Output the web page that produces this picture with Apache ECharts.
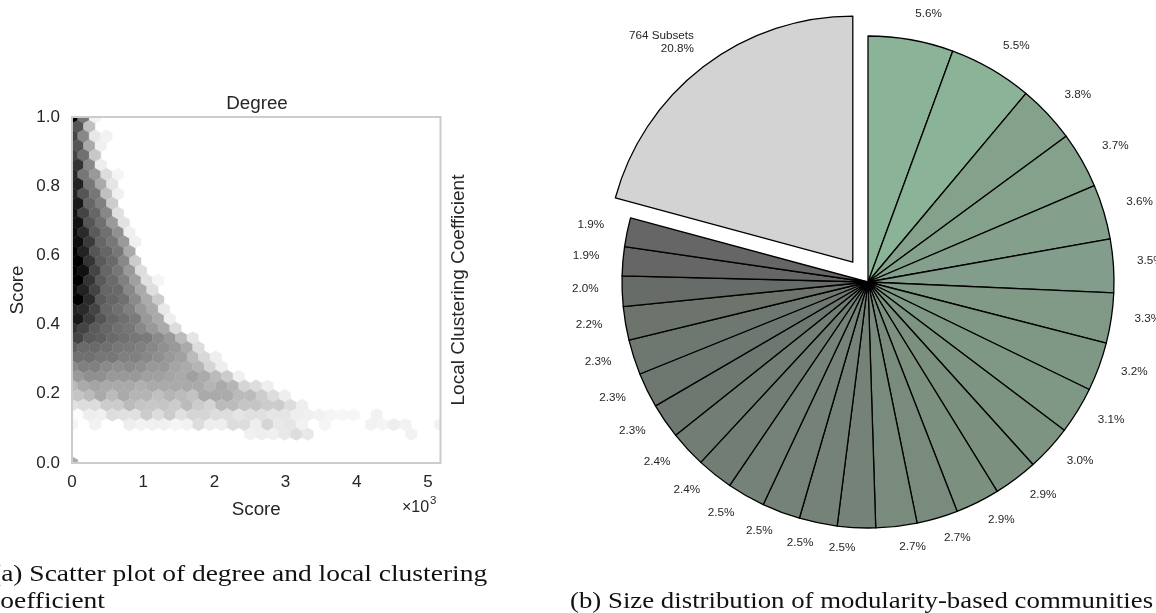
<!DOCTYPE html>
<html>
<head>
<meta charset="utf-8">
<style>html,body{margin:0;padding:0;background:#fff}#c{width:1156px;height:613px}</style>
<script src="https://cdn.jsdelivr.net/npm/echarts@6/dist/echarts.min.js"></script>
</head>
<body>
<div id="c"></div>
<script>
// Hexbin darkness (0 = white, 255 = black) per lattice row, top (y = 1) to bottom; each row lists columns from the left.
const hexDensity = [
 [255,136,12],
 [170,63],
 [187,119,23,13],
 [170,85,15],
 [187,143,55],
 [204,119,17],
 [213,136,102,34,10],
 [221,136,85,26],
 [221,170,136,63,15],
 [230,153,127,51],
 [238,187,153,119,31],
 [238,170,143,101,29],
 [245,213,165,143,111,15],
 [242,197,153,136,102,15],
 [255,221,170,153,136,85],
 [255,204,165,149,119,51],
 [255,238,187,153,136,102,34],
 [255,204,165,149,127,95,31,10],
 [245,221,187,153,149,119,85,33],
 [255,213,165,153,143,117,85,51],
 [221,213,187,153,143,127,102,85,23],
 [230,197,170,153,143,133,102,85,17],
 [204,187,165,153,143,136,119,102,85,35],
 [187,165,159,149,143,136,133,117,102,68,26],
 [160,149,149,143,136,133,127,119,111,102,85,34],
 [143,143,136,136,127,127,119,112,102,95,68,39,17],
 [117,127,127,117,112,117,111,102,102,90,85,74,42,17],
 [102,112,111,102,102,102,95,95,90,85,95,85,68,51,15],
 [70,85,90,85,85,85,79,85,85,85,85,85,74,85,74,42,34,17],
 [58,68,85,68,85,74,74,63,74,68,60,85,85,85,68,68,51,34,17],
 [30,34,34,51,51,68,58,55,58,51,68,51,42,68,68,58,58,51,51,34,17],
 [3,17,15,34,31,31,51,34,51,31,42,42,34,34,26,31,31,26,26,17,15,13,10,9,9,0,13],
 [10,0,13,0,0,17,13,15,15,10,13,34,17,17,34,34,17,42,23,26,13,0,10,0,0,0,13,10,17,13,0,0,13],
 [0,0,0,0,0,0,0,0,0,0,0,0,0,0,0,15,17,15,23,34,23,0,0,0,0,0,0,0,0,13],
 [],
 [],
 [85]
];
const hexStepX = 0.1615;     // thousands of score per column
const hexStepY = 1 / 36;     // score per row

const xTicksMax = 5.176;
const yTicks = 0.2;

const sliceNames = ['','','','','','','','','','','','','','','','','','','','','','','','','','','','764 Subsets'];
const sliceValues = [5.6,5.5,3.8,3.7,3.6,3.5,3.3,3.2,3.1,3.0,2.9,2.9,2.7,2.7,2.5,2.5,2.5,2.5,2.4,2.4,2.3,2.3,2.3,2.2,2.0,1.9,1.9,20.8];
const slicePalette = ['#8BB398','#8BB398','#84A18B','#84A18B','#849F8C','#829D8B','#809A87','#7F9886','#7F9886','#7D9482','#7B907E','#7B907E','#798B7C','#798B7C','#758278','#758278','#758278','#758278','#727D74','#727D74','#6F7870','#6F7870','#6F7870','#6C746C','#686C68','#666666','#666666','#D3D3D3'];

const hexData = [];
hexDensity.forEach((row, j) => row.forEach((v, k) => {
  if (v > 0) hexData.push([(k + (j % 2 ? 0.5 : 0)) * hexStepX, 1 - j * hexStepY, v]);
}));

const chart = echarts.init(document.getElementById('c'), null, {renderer: 'canvas'});
const ink = '#262626';
const sans = 'Liberation Sans';
const capFont = '23.7px "Liberation Serif"';
chart.setOption({
  animation: false,
  backgroundColor: '#fff',
  textStyle: {fontFamily: sans},
  grid: {left: 72, top: 117, width: 368.5, height: 346, z: 5, show: true,
    backgroundColor: 'transparent', borderColor: '#cccccc', borderWidth: 2},
  xAxis: {type: 'value', min: 0, max: xTicksMax, interval: 1,
    name: 'Score', nameLocation: 'middle', nameGap: 37,
    nameTextStyle: {color: ink, fontSize: 18.8, fontFamily: sans},
    axisLine: {show: false}, axisTick: {show: false}, splitLine: {show: false},
    axisLabel: {color: ink, fontSize: 17, margin: 11, fontFamily: sans, formatter: v => String(v)}},
  yAxis: [
    {type: 'value', min: 0, max: 1, interval: yTicks,
     name: 'Score', nameLocation: 'middle', nameGap: 45, nameRotate: 90,
     nameTextStyle: {color: ink, fontSize: 18.8, fontFamily: sans},
     axisLine: {show: false}, axisTick: {show: false}, splitLine: {show: false},
     axisLabel: {color: ink, fontSize: 17, margin: 12, fontFamily: sans, formatter: v => v.toFixed(1)}},
    {type: 'value', position: 'right', min: 0, max: 1,
     name: 'Local Clustering Coefficient', nameLocation: 'middle', nameGap: 9, nameRotate: 90,
     nameTextStyle: {color: ink, fontSize: 19, fontFamily: sans},
     axisLine: {show: false}, axisTick: {show: false}, splitLine: {show: false}, axisLabel: {show: false}}
  ],
  graphic: [
    {type: 'text', x: 257, y: 104, style: {text: 'Degree', fill: ink, font: '18.8px "Liberation Sans"', align: 'center', verticalAlign: 'middle'}},
    {type: 'text', x: 402, y: 508, style: {text: '×10', fill: ink, font: '16px "Liberation Sans"', verticalAlign: 'middle'}},
    {type: 'text', x: 430, y: 501, style: {text: '3', fill: ink, font: '11.5px "Liberation Sans"', verticalAlign: 'middle'}},
    {type: 'text', x: -8, y: 574.5, scaleX: 1.16, style: {text: '(a) Scatter plot of degree and local clustering', fill: '#111', font: capFont, verticalAlign: 'middle'}},
    {type: 'text', x: -12, y: 601.5, scaleX: 1.16, style: {text: 'coefficient', fill: '#111', font: capFont, verticalAlign: 'middle'}},
    {type: 'text', x: 570, y: 601.5, scaleX: 1.132, style: {text: '(b) Size distribution of modularity-based communities', fill: '#111', font: capFont, verticalAlign: 'middle'}}
  ],
  series: [
    {type: 'custom', coordinateSystem: 'cartesian2d', xAxisIndex: 0, yAxisIndex: 0, clip: true, z: 2,
     data: hexData,
     renderItem(params, api) {
       const c = api.coord([api.value(0), api.value(1)]);
       const halfW = api.size([hexStepX, 0])[0] / 2;
       const side = api.size([0, hexStepY])[1] * 2 / 3;
       const g = 255 - api.value(2);
       const col = `rgb(${g},${g},${g})`;
       return {type: 'polygon',
         shape: {points: [[c[0], c[1] - side], [c[0] + halfW, c[1] - side / 2], [c[0] + halfW, c[1] + side / 2],
                          [c[0], c[1] + side], [c[0] - halfW, c[1] + side / 2], [c[0] - halfW, c[1] - side / 2]]},
         style: {fill: col, stroke: col, lineWidth: 0.4}};
     }},
    {type: 'pie', center: [868, 282], radius: [0, 246], startAngle: 90, clockwise: true,
     selectedMode: 'multiple', selectedOffset: 25, avoidLabelOverlap: false,
     itemStyle: {borderColor: '#000', borderWidth: 1.3},
     emphasis: {disabled: true},
     labelLine: {show: false, length: 23.5, length2: 0},
     label: {show: true, position: 'outside', distanceToLabelLine: 0, color: ink, fontSize: 11.7,
       fontFamily: sans, lineHeight: 13,
       formatter: p => (p.name ? p.name + '\n' : '') + p.value.toFixed(1) + '%'},
     labelLayout: p => (p.labelRect.height > 20 ? {dx: 5, dy: -6} : {dy: -3}),
     data: sliceValues.map((v, i) => ({
       value: v, name: sliceNames[i], selected: i === sliceValues.length - 1,
       itemStyle: {color: slicePalette[i]}
     }))}
  ]
});
</script>
</body>
</html>
